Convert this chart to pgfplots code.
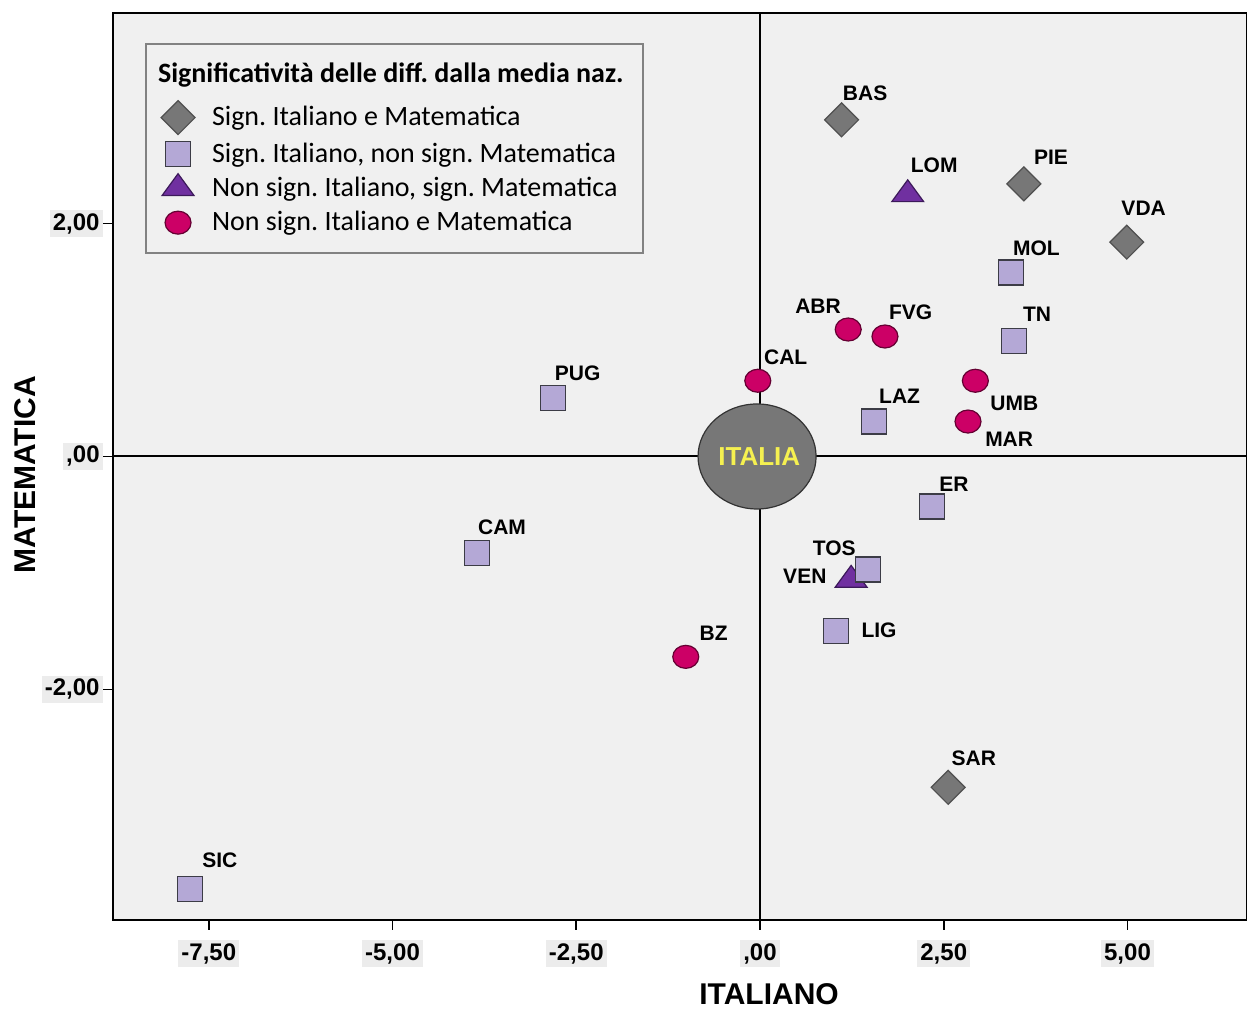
\documentclass[border=0pt]{standalone}
\usepackage{fontspec}
\setmainfont{Liberation Sans}
\newfontfamily\calibri{Carlito}
\usepackage{pgfplots}
\pgfplotsset{compat=1.18}
\usetikzlibrary{calc}
\frenchspacing
\definecolor{bg}{RGB}{240,240,240}
\definecolor{tlbg}{RGB}{236,236,236}
\definecolor{dgray}{RGB}{119,119,119}
\definecolor{dgraydraw}{RGB}{80,80,80}
\definecolor{lav}{RGB}{180,168,214}
\definecolor{lavdraw}{RGB}{60,60,70}
\definecolor{purp}{RGB}{112,48,160}
\definecolor{purpdraw}{RGB}{60,25,90}
\definecolor{mag}{RGB}{204,0,102}
\definecolor{magdraw}{RGB}{100,0,50}
\definecolor{yel}{RGB}{245,240,80}
\definecolor{legdraw}{RGB}{130,130,130}
\pgfplotsset{
  diastyle/.style={only marks, mark=square*, mark size=6pt, mark options={rotate=45, fill=dgray, draw=dgraydraw, line width=0.6pt}},
  sqstyle/.style={only marks, mark=square*, mark size=6.25pt, mark options={fill=lav, draw=lavdraw, line width=0.6pt}},
  tristyle/.style={only marks, mark=triangle*, mark size=9.2pt, mark options={yscale=0.79, fill=purp, draw=purpdraw, line width=0.6pt}},
  circstyle/.style={only marks, mark=*, mark size=5.75pt, mark options={xscale=1.13, fill=mag, draw=magdraw, line width=0.6pt}},
}
\begin{document}
\begin{tikzpicture}[lab/.style={font=\bfseries\fontsize{10.5}{12}\selectfont, inner sep=0pt}]
\begin{axis}[
  name=ax,
  scale only axis, width=567pt, height=453.5pt,
  xmin=-8.803, xmax=6.626, ymin=-3.979, ymax=3.807,
  axis background/.style={fill=bg},
  axis line style={line width=1pt},
  xtick={-7.5,-5,-2.5,0,2.5,5},
  xticklabels={{-7,50},{-5,00},{-2,50},{,00},{2,50},{5,00}},
  ytick={-4,-2,0,2},
  yticklabels={{-4,00},{-2,00},{,00},{2,00}},
  tick align=outside, major tick length=5pt,
  xtick pos=bottom, ytick pos=left,
  tick style={black, line width=0.8pt},
  tick label style={font=\bfseries\fontsize{12}{14}\selectfont, fill=tlbg, inner sep=1.5pt},
  xticklabel style={yshift=-5pt},
  legend style={at={(axis description cs:0.0282,0.967)}, anchor=north west,
    draw=legdraw, line width=1pt, fill=bg,
    font=\calibri\fontsize{14}{16}\selectfont,
    inner xsep=7.5pt, inner ysep=7.5pt, row sep=2pt, column sep=6.5pt},
  legend cell align=left,
  clip=false,
]
% zero lines
\addplot[black, line width=1pt, forget plot] coordinates {(-8.803,0) (6.626,0)};
\addplot[black, line width=1pt, forget plot] coordinates {(0,-3.979) (0,3.807)};
% ITALIA
\addplot[only marks, mark=*, mark size=26.25pt, mark options={xscale=1.124, fill=dgray, draw=black!80, line width=0.6pt}, forget plot] coordinates {(-0.04,0)};
\coordinate (itc) at (axis cs:-0.01,0);
% Sign. Italiano e Matematica
\addplot[diastyle, forget plot] coordinates {(1.11,2.89) (3.59,2.34) (4.99,1.84) (2.56,-2.84)};
% Non sign. Italiano, sign. Matematica
\addplot[tristyle, forget plot] coordinates {(2.01,2.25) (1.24,-1.06)};
% Non sign. Italiano e Matematica
\addplot[circstyle, forget plot] coordinates {(1.20,1.09) (1.70,1.03) (-0.03,0.65) (2.93,0.65) (2.83,0.30) (-1.01,-1.72)};
% Sign. Italiano, non sign. Matematica
\addplot[sqstyle, forget plot] coordinates {(3.41,1.58) (3.46,0.99) (1.55,0.30) (-2.82,0.50) (2.34,-0.43) (-3.85,-0.83) (1.47,-0.97) (1.03,-1.50) (-7.76,-3.71)};
% labels
\node[lab] at (axis cs:1.43,3.12) {BAS};
\node[lab] at (axis cs:2.37,2.50) {LOM};
\node[lab] at (axis cs:3.96,2.57) {PIE};
\node[lab] at (axis cs:5.22,2.13) {VDA};
\node[lab] at (axis cs:3.76,1.79) {MOL};
\node[lab] at (axis cs:3.77,1.22) {TN};
\node[lab] at (axis cs:0.79,1.29) {ABR};
\node[lab] at (axis cs:2.05,1.24) {FVG};
\node[lab] at (axis cs:0.35,0.85) {CAL};
\node[lab] at (axis cs:-2.48,0.71) {PUG};
\node[lab] at (axis cs:1.90,0.52) {LAZ};
\node[lab] at (axis cs:3.46,0.46) {UMB};
\node[lab] at (axis cs:3.39,0.15) {MAR};
\node[lab] at (axis cs:2.64,-0.24) {ER};
\node[lab] at (axis cs:-3.51,-0.61) {CAM};
\node[lab] at (axis cs:1.01,-0.79) {TOS};
\node[lab] at (axis cs:0.61,-1.03) {VEN};
\node[lab] at (axis cs:1.62,-1.49) {LIG};
\node[lab] at (axis cs:-0.63,-1.52) {BZ};
\node[lab] at (axis cs:2.91,-2.59) {SAR};
\node[lab] at (axis cs:-7.35,-3.47) {SIC};
% legend
\addlegendimage{empty legend}
\addlegendentry{\hspace*{-27pt}\raisebox{3.5pt}{\bfseries Significatività delle diff. dalla media naz.}}
\addlegendimage{diastyle}
\addlegendentry{Sign. Italiano e Matematica}
\addlegendimage{sqstyle}
\addlegendentry{Sign. Italiano, non sign. Matematica}
\addlegendimage{tristyle}
\addlegendentry{Non sign. Italiano, sign. Matematica}
\addlegendimage{circstyle}
\addlegendentry{Non sign. Italiano e Matematica}
\end{axis}
\node[font=\bfseries\fontsize{13}{15}\selectfont, text=yel, inner sep=0pt] at (itc) {ITALIA};
\node[font=\bfseries\fontsize{15}{18}\selectfont, anchor=north, inner sep=0pt] at ($(ax.south west)+(0.5785*567pt,-31.5pt)$) {ITALIANO};
\node[font=\bfseries\fontsize{15}{18}\selectfont, rotate=90, inner sep=0pt] at ($(ax.south west)+(-44pt,0.491*453.5pt)$) {MATEMATICA};
\pgfresetboundingbox
\path ($(ax.south west)+(-56.5pt,-44.5pt)$) rectangle ($(ax.north east)+(0,6.5pt)$);
\end{tikzpicture}
\end{document}
